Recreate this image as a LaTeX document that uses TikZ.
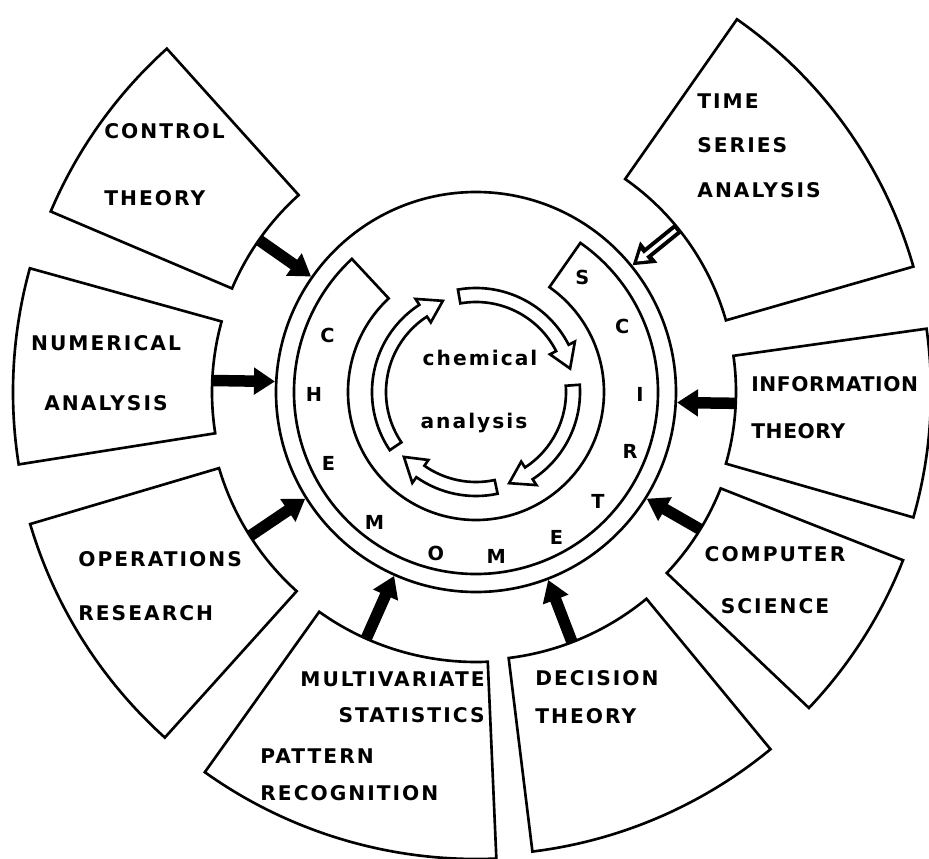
\documentclass[tikz,border=0pt]{standalone}
\usepackage{fontspec}
\newfontfamily\labelfont{DejaVu Sans}[LetterSpace=10]
\newfontfamily\tightlabelfont{DejaVu Sans}[LetterSpace=3]
\usetikzlibrary{arrows.meta}

\begin{document}
\begin{tikzpicture}[
      >=Stealth,
      field/.style={draw, line width=1.5pt, line join=miter, fill=white},
      fieldtext/.style={font=\labelfont\bfseries\fontsize{11.5}{13}\selectfont, inner sep=0pt},
      ringletter/.style={font=\labelfont\bfseries\fontsize{11}{13}\selectfont, inner sep=0pt},
      chemtext/.style={font=\labelfont\bfseries\fontsize{11.5}{13}\selectfont, inner sep=0pt},
      cyclearrow/.style={draw, line width=1.5pt, fill=white, line join=miter},
      feed/.style={line width=0.23cm, -{Triangle[length=0.42cm, width=0.52cm]}},
      feedcore/.style={white, line width=0.07cm, shorten >=0.12cm, shorten <=0.06cm, -{Triangle[length=0.2cm, width=0.24cm]}},
  ]
  \useasboundingbox (-9.52,-9.32) rectangle (9.06,7.84);

  % --- Outer fields (annular sectors) ---
  \draw[field] (55:5.2cm) arc[start angle=55, end angle=16, radius=5.2cm] -- (16:9.1cm) arc[start angle=16, end angle=55, radius=9.1cm] -- cycle;
  \draw[field] (8:5.2cm) arc[start angle=8, end angle=-16, radius=5.2cm] -- (-16:9.1cm) arc[start angle=-16, end angle=8, radius=9.1cm] -- cycle;
  \draw[field] (-21.5:5.26cm) arc[start angle=-21.5, end angle=-43.5, radius=5.26cm] -- (-43.5:9.18cm) arc[start angle=-43.5, end angle=-21.5, radius=9.18cm] -- cycle;
  \draw[field] (-50.5:5.36cm) arc[start angle=-50.5, end angle=-83, radius=5.36cm] -- (-83:9.26cm) arc[start angle=-83, end angle=-50.5, radius=9.26cm] -- cycle;
  \draw[field] (-87.5:5.4cm) arc[start angle=-87.5, end angle=-125.5, radius=5.4cm] -- (-125.5:9.34cm) arc[start angle=-125.5, end angle=-87.5, radius=9.34cm] -- cycle;
  \draw[field] (228:5.36cm) arc[start angle=228, end angle=196.5, radius=5.36cm] -- (196.5:9.3cm) arc[start angle=196.5, end angle=228, radius=9.3cm] -- cycle;
  \draw[field] (189:5.28cm) arc[start angle=189, end angle=164.5, radius=5.28cm] -- (164.5:9.26cm) arc[start angle=164.5, end angle=189, radius=9.26cm] -- cycle;
  \draw[field] (157:5.3cm) arc[start angle=157, end angle=132, radius=5.3cm] -- (132:9.24cm) arc[start angle=132, end angle=157, radius=9.24cm] -- cycle;

  % feed points on the inner edges
  \coordinate (ts-feed) at (39:5.2cm);
  \coordinate (it-feed) at (357.5:5.2cm);
  \coordinate (cs-feed) at (328.5:5.26cm);
  \coordinate (dt-feed) at (291:5.36cm);
  \coordinate (mv-feed) at (246:5.4cm);
  \coordinate (or-feed) at (212.5:5.36cm);
  \coordinate (na-feed) at (177.5:5.28cm);
  \coordinate (ct-feed) at (145:5.3cm);

  % --- Rings ---
  \node[draw, circle, line width=1.5pt, minimum size=8cm, inner sep=0pt] (ring) at (0,0) {};
  \draw[field] (55:3.64cm) arc[start angle=55, end angle=-227, radius=3.64cm] -- (133:2.56cm) arc[start angle=133, end angle=415, radius=2.56cm] -- cycle;

  % --- Chemical analysis cycle ---
  \draw[cyclearrow] (100:2.08cm) arc[start angle=100, end angle=27, radius=2.08cm] -- (27:2.22cm) -- (14:1.94cm) -- (27:1.66cm) -- (27:1.8cm) arc[start angle=27, end angle=100, radius=1.8cm] -- cycle;
  \draw[cyclearrow] (4:2.08cm) arc[start angle=4, end angle=-57, radius=2.08cm] -- (-57:2.22cm) -- (-70:1.94cm) -- (-57:1.66cm) -- (-57:1.8cm) arc[start angle=-57, end angle=4, radius=1.8cm] -- cycle;
  \draw[cyclearrow] (-78:2.08cm) arc[start angle=-78, end angle=-125, radius=2.08cm] -- (-125:2.22cm) -- (-138:1.94cm) -- (-125:1.66cm) -- (-125:1.8cm) arc[start angle=-125, end angle=-78, radius=1.8cm] -- cycle;
  \draw[cyclearrow] (-146:2.08cm) arc[start angle=-146, end angle=-237, radius=2.08cm] -- (-237:2.22cm) -- (-250:1.94cm) -- (-237:1.66cm) -- (-237:1.8cm) arc[start angle=-237, end angle=-146, radius=1.8cm] -- cycle;

  \node[chemtext] (chem) at (0.08,0.68) {chemical};
  \node[chemtext] (anal) at (-0.04,-0.62) {analysis};

  % --- CHEMOMETRICS ---
  \node[ringletter] (l1) at (159:3.18cm) {C};
  \node[ringletter] (l2) at (181:3.24cm) {H};
  \node[ringletter] (l3) at (206:3.28cm) {E};
  \node[ringletter] (l4) at (232:3.3cm) {M};
  \node[ringletter] (l5) at (256:3.32cm) {O};
  \node[ringletter] (l6) at (277:3.32cm) {M};
  \node[ringletter] (l7) at (299:3.32cm) {E};
  \node[ringletter] (l8) at (318:3.28cm) {T};
  \node[ringletter] (l9) at (339:3.3cm) {R};
  \node[ringletter] (l10) at (359:3.28cm) {I};
  \node[ringletter] (l11) at (24:3.2cm) {C};
  \node[ringletter] (l12) at (47:3.12cm) {S};

  % --- Feed arrows into the ring ---
  \draw[feed] (ts-feed) -- (ring.39);
  \draw[feedcore] (ts-feed) -- (ring.39);
  \draw[feed] (it-feed) -- (ring.357.5);
  \draw[feed] (cs-feed) -- (ring.328.5);
  \draw[feed] (dt-feed) -- (ring.291);
  \draw[feed] (mv-feed) -- (ring.246);
  \draw[feed] (or-feed) -- (ring.212.5);
  \draw[feed] (na-feed) -- (ring.177.5);
  \draw[feed] (ct-feed) -- (ring.145);

  % --- Field labels ---
  \node[fieldtext, anchor=north west, align=left] (ct-text) at (-7.44,5.38) {CONTROL\\[0.88cm]THEORY};
  \node[fieldtext, anchor=north west, align=left] (ts-text) at (4.42,5.98) {TIME\\[0.44cm]SERIES\\[0.44cm]ANALYSIS};
  \node[fieldtext, anchor=north, align=center] (na-text) at (-7.40,1.14) {NUMERICAL\\[0.74cm]ANALYSIS};
  \node[fieldtext, font=\tightlabelfont\bfseries\fontsize{11.5}{13}\selectfont, anchor=north west, align=left] (it-text) at (5.5,0.32) {INFORMATION\\[0.48cm]THEORY};
  \node[fieldtext, anchor=north west, align=left] (or-text) at (-7.96,-3.18) {OPERATIONS\\[0.62cm]RESEARCH};
  \node[fieldtext, anchor=north, align=center] (cs-text) at (5.98,-3.08) {COMPUTER\\[0.58cm]SCIENCE};
  \node[fieldtext, anchor=north east, align=right] (mv-text) at (0.18,-5.58) {MULTIVARIATE\\[0.28cm]STATISTICS};
  \node[fieldtext, anchor=north west, align=left] (pr-text) at (-4.32,-7.12) {PATTERN\\[0.30cm]RECOGNITION};
  \node[fieldtext, anchor=north west, align=left] (dt-text) at (1.18,-5.56) {DECISION\\[0.30cm]THEORY};

\end{tikzpicture}
\end{document}
